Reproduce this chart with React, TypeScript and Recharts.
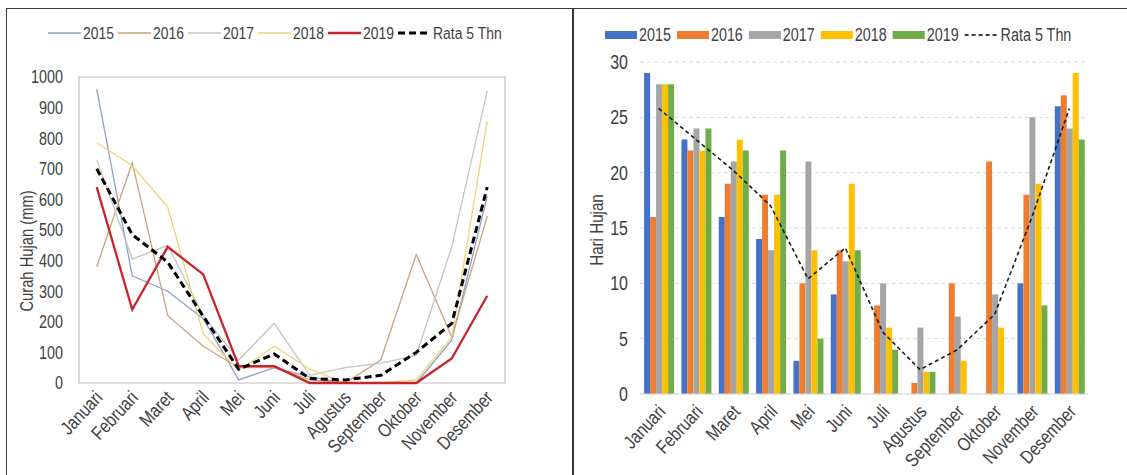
import {
  Bar,
  CartesianGrid,
  ComposedChart,
  Legend,
  Line,
  ReferenceArea,
  XAxis,
  YAxis,
} from 'recharts';

// the original uses a condensed face; Liberation Sans squeezed horizontally stands in for it
const FONT = '"Liberation Sans", Arial, sans-serif';
const SQUEEZE = 0.82;
const TEXT = '#404040';

const MONTHS = [
  'Januari', 'Februari', 'Maret', 'April', 'Mei', 'Juni',
  'Juli', 'Agustus', 'September', 'Oktober', 'November', 'Desember',
];

// curah hujan bulanan (mm)
const RAIN_2015 = [960, 350, 300, 210, 10, 50, 20, 0, 0, 0, 140, 610];
const RAIN_2016 = [380, 720, 220, 120, 50, 50, 10, 0, 75, 420, 150, 545];
const RAIN_2017 = [730, 405, 450, 220, 75, 195, 25, 50, 65, 90, 445, 955];
const RAIN_2018 = [785, 710, 575, 160, 40, 120, 45, 0, 0, 10, 150, 855];
const RAIN_2019 = [640, 240, 445, 355, 55, 55, 0, 0, 0, 0, 80, 285];
const RAIN_AVG = [700, 485, 395, 218, 45, 95, 15, 10, 25, 100, 195, 640];
const RAIN_TICKS = [0, 100, 200, 300, 400, 500, 600, 700, 800, 900, 1000];

// hari hujan bulanan
const DAYS_2015 = [29, 23, 16, 14, 3, 9, 0, 0, 0, 0, 10, 26];
const DAYS_2016 = [16, 22, 19, 18, 10, 13, 8, 1, 10, 21, 18, 27];
const DAYS_2017 = [28, 24, 21, 13, 21, 12, 10, 6, 7, 9, 25, 24];
const DAYS_2018 = [28, 22, 23, 18, 13, 19, 6, 2, 3, 6, 19, 29];
const DAYS_2019 = [28, 24, 22, 22, 5, 13, 4, 2, 0, 0, 8, 23];
const DAYS_AVG = [25.8, 23, 20.2, 17, 10.4, 13.2, 5.6, 2.2, 4, 7.2, 16, 25.8];
const DAYS_TICKS = [0, 5, 10, 15, 20, 25, 30];

const LINE_SERIES = [
  { key: 'r2015', name: '2015', color: '#8ea1c2', width: 1.3, dash: undefined },
  { key: 'r2016', name: '2016', color: '#c9a47c', width: 1.3, dash: undefined },
  { key: 'r2017', name: '2017', color: '#c4c4c4', width: 1.3, dash: undefined },
  { key: 'r2018', name: '2018', color: '#f0d277', width: 1.3, dash: undefined },
  { key: 'r2019', name: '2019', color: '#c8242b', width: 2.3, dash: undefined },
  { key: 'rAvg', name: 'Rata 5 Thn', color: '#000000', width: 3, dash: '7 4' },
];

const BAR_SERIES = [
  { key: 'd2015', name: '2015', color: '#4472c4' },
  { key: 'd2016', name: '2016', color: '#ed7d31' },
  { key: 'd2017', name: '2017', color: '#a5a5a5' },
  { key: 'd2018', name: '2018', color: '#ffc000' },
  { key: 'd2019', name: '2019', color: '#70ad47' },
];

const rainData = MONTHS.map((month, i) => ({
  month,
  r2015: RAIN_2015[i],
  r2016: RAIN_2016[i],
  r2017: RAIN_2017[i],
  r2018: RAIN_2018[i],
  r2019: RAIN_2019[i],
  rAvg: RAIN_AVG[i],
}));

const dayData = MONTHS.map((month, i) => ({
  month,
  d2015: DAYS_2015[i],
  d2016: DAYS_2016[i],
  d2017: DAYS_2017[i],
  d2018: DAYS_2018[i],
  d2019: DAYS_2019[i],
  dAvg: DAYS_AVG[i],
}));

let ctx: CanvasRenderingContext2D | null = null;
function textWidth(str: string, size: number) {
  if (!ctx) ctx = document.createElement('canvas').getContext('2d');
  if (!ctx) return str.length * size * 0.45;
  ctx.font = `${size}px "Liberation Sans", Arial, sans-serif`;
  return ctx.measureText(str).width * SQUEEZE;
}

function NText({ x, y, angle = 0, anchor = 'start', dy, size, children }: any) {
  return (
    <text
      x={0}
      y={0}
      dy={dy}
      transform={`translate(${x} ${y}) rotate(${angle}) scale(${SQUEEZE} 1)`}
      textAnchor={anchor}
      fontSize={size}
      fontFamily={FONT}
      fill={TEXT}
    >
      {children}
    </text>
  );
}

function MonthTick({ x, y, payload, sx, sy }: any) {
  return (
    <NText x={x + sx} y={y + sy} angle={-47} anchor="end" dy="0.35em" size={19}>
      {payload.value}
    </NText>
  );
}

function ValueTick({ x, y, payload, size }: any) {
  return (
    <NText x={x} y={y} anchor="end" dy="0.36em" size={size}>
      {payload.value}
    </NText>
  );
}

function RainLegend() {
  let cursor = 0;
  const items = LINE_SERIES.map((s) => {
    const x = cursor;
    cursor += 33 + 3 + textWidth(s.name, 17) + 3;
    return (
      <g key={s.key}>
        <line x1={x} y1={12} x2={x + 33} y2={12} stroke={s.color} strokeWidth={s.width} strokeDasharray={s.dash} />
        <NText x={x + 35} y={12} dy="0.36em" size={17}>{s.name}</NText>
      </g>
    );
  });
  return <svg width={cursor} height={24} style={{ display: 'block' }}>{items}</svg>;
}

function DaysLegend() {
  let cursor = 0;
  const items = BAR_SERIES.map((s) => {
    const x = cursor;
    cursor += 32 + 3 + textWidth(s.name, 17.5) + 5;
    return (
      <g key={s.key}>
        <rect x={x} y={8} width={32} height={8} fill={s.color} />
        <NText x={x + 34} y={12} dy="0.36em" size={17.5}>{s.name}</NText>
      </g>
    );
  });
  const ax = cursor;
  cursor += 36 + textWidth('Rata 5 Thn', 17.5) + 2;
  return (
    <svg width={cursor} height={24} style={{ display: 'block' }}>
      {items}
      <line x1={ax} y1={12} x2={ax + 34} y2={12} stroke="#000" strokeWidth={1.5} strokeDasharray="4 3" />
      <NText x={ax + 36} y={12} dy="0.36em" size={17.5}>Rata 5 Thn</NText>
    </svg>
  );
}

function AxisTitle({ viewBox, value, dx, dy, size }: any) {
  const cx = viewBox.x + dx;
  const cy = viewBox.y + viewBox.height / 2 + dy;
  return (
    <NText x={cx} y={cy} angle={-90} anchor="middle" dy="0.35em" size={size}>
      {value}
    </NText>
  );
}

function RainChart() {
  return (
    <ComposedChart
      width={571}
      height={475}
      data={rainData}
      margin={{ top: 77, right: 66, bottom: 12, left: 19 }}
    >
      <XAxis
        dataKey="month"
        scale="band"
        interval={0}
        height={80}
        axisLine={false}
        tickLine={false}
        tick={(p: any) => <MonthTick {...p} sx={2} sy={3} />}
      />
      <YAxis
        width={60}
        domain={[0, 1000]}
        ticks={RAIN_TICKS}
        axisLine={false}
        tickLine={false}
        tickMargin={10}
        tick={(p: any) => <ValueTick {...p} size={17.5} />}
        label={{ content: (p: any) => <AxisTitle {...p} value="Curah Hujan (mm)" dx={8} dy={21} size={18} /> }}
      />
      <ReferenceArea y1={0} y2={1000} fill="none" stroke="#bfbfbf" strokeWidth={1.2} ifOverflow="visible" />
      <Legend
        verticalAlign="middle"
        align="center"
        wrapperStyle={{ top: 21, left: 48, width: 470 }}
        content={() => <RainLegend />}
      />
      {LINE_SERIES.map((s) => (
        <Line
          key={s.key}
          type="linear"
          dataKey={s.key}
          name={s.name}
          stroke={s.color}
          strokeWidth={s.width}
          strokeDasharray={s.dash}
          dot={false}
          activeDot={false}
          isAnimationActive={false}
        />
      ))}
    </ComposedChart>
  );
}

function DaysChart() {
  return (
    <ComposedChart
      width={556}
      height={475}
      data={dayData}
      margin={{ top: 62, right: 39, bottom: 11, left: 19 }}
      barCategoryGap="11%"
      barGap={0}
    >
      <CartesianGrid vertical={false} stroke="#d9d9d9" strokeDasharray="4 3" />
      <XAxis
        dataKey="month"
        interval={0}
        height={70}
        axisLine={{ stroke: '#d9d9d9' }}
        tickLine={false}
        tick={(p: any) => <MonthTick {...p} sx={3} sy={6} />}
      />
      <YAxis
        width={50}
        domain={[0, 30]}
        ticks={DAYS_TICKS}
        axisLine={false}
        tickLine={false}
        tickMargin={6}
        tick={(p: any) => <ValueTick {...p} size={19.5} />}
        label={{ content: (p: any) => <AxisTitle {...p} value="Hari Hujan" dx={7} dy={2} size={18.5} /> }}
      />
      <Legend
        verticalAlign="middle"
        align="center"
        wrapperStyle={{ top: 23, left: 34, width: 510 }}
        content={() => <DaysLegend />}
      />
      {BAR_SERIES.map((s) => (
        <Bar key={s.key} dataKey={s.key} name={s.name} fill={s.color} isAnimationActive={false} />
      ))}
      <Line
        type="linear"
        dataKey="dAvg"
        name="Rata 5 Thn"
        stroke="#1a1a1a"
        strokeWidth={1.6}
        strokeDasharray="4 3"
        dot={false}
        activeDot={false}
        isAnimationActive={false}
      />
    </ComposedChart>
  );
}

export default function App() {
  return (
    <div style={{ position: 'fixed', left: 0, top: 0, width: 1127, height: 475, background: '#fff', overflow: 'hidden' }}>
      <div style={{ position: 'absolute', left: 6, top: 8, width: 565, height: 480, borderLeft: '1px solid #3a3a3a', borderTop: '1px solid #3a3a3a', borderRight: '2px solid #3a3a3a' }} />
      <div style={{ position: 'absolute', left: 572, top: 8, width: 560, height: 480, borderTop: '1px solid #3a3a3a' }} />
      <div style={{ position: 'absolute', left: 0, top: 0 }}>
        <RainChart />
      </div>
      <div style={{ position: 'absolute', left: 571, top: 0 }}>
        <DaysChart />
      </div>
    </div>
  );
}
